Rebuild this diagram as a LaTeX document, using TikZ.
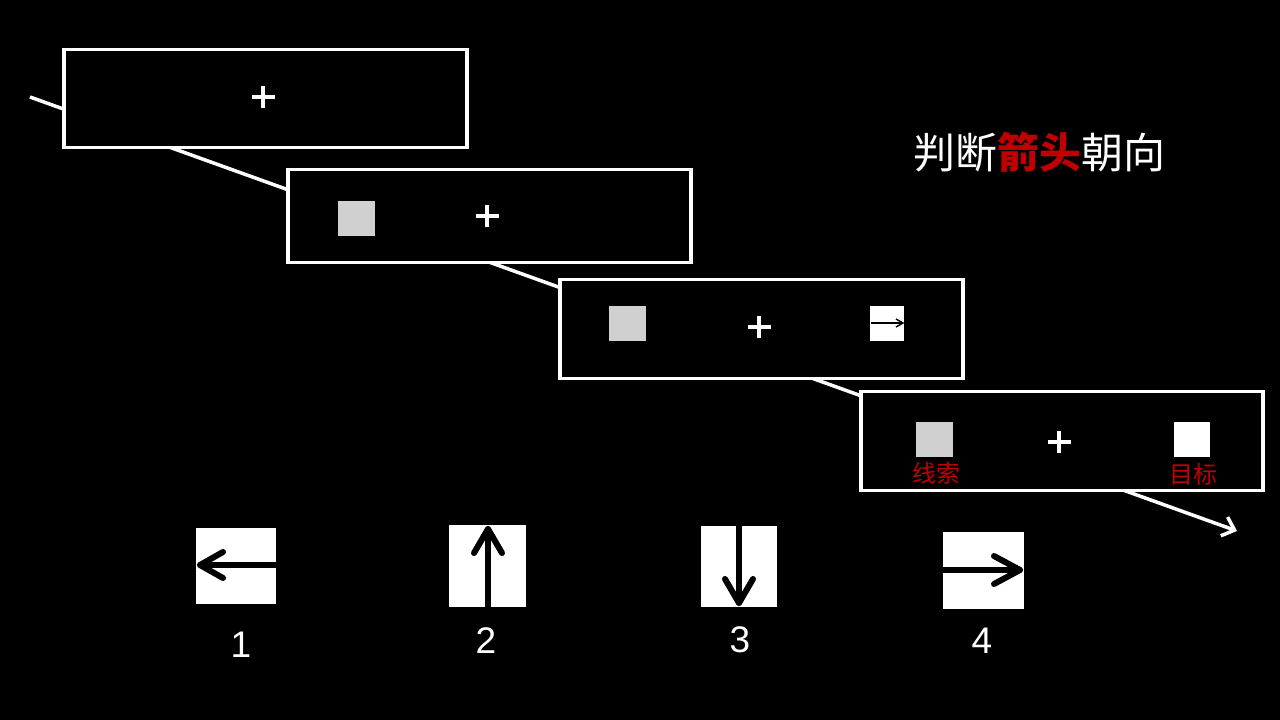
\documentclass[tikz,border=0pt]{standalone}
\usepackage{fontspec}
\setmainfont{Liberation Sans}
\newfontfamily\cjk{Noto Sans CJK SC}
\usetikzlibrary{arrows.meta}
\definecolor{cuegray}{HTML}{D0D0D0}
\definecolor{labelred}{HTML}{C00000}
\tikzset{
  frame/.style={draw=white, line width=3.5pt, fill=black, anchor=north west, inner sep=0pt},
  sq/.style={anchor=north west, inner sep=0pt, draw=none},
  card/.style={fill=white, anchor=north west, inner sep=0pt, draw=none},
  cardarrow/.style={draw=black, line width=6pt, line cap=round, line join=round},
  plussign/.style={draw=white, line width=3.5pt},
  num/.style={text=white, font=\fontsize{37}{42}\selectfont},
  tag/.style={text=labelred, font=\cjk\fontsize{24}{28}\selectfont},
  timeline/.style={draw=white, line width=3.5pt, -{Straight Barb[length=11pt,width=20pt,line width=3.5pt]}}
}
\begin{document}
\begin{tikzpicture}[x=1pt,y=-1pt]
\useasboundingbox[fill=black] (0,0) rectangle (1280,720);
% timeline
\coordinate (tstart) at (30,97);
\coordinate (tend) at (1237,531);
\draw[timeline] (tstart) -- (tend);
% frames
\node[frame, minimum width=403pt, minimum height=98pt] (b1) at (62,47.5) {};
\node[frame, minimum width=403pt, minimum height=93pt] (b2) at (286,167.5) {};
\node[frame, minimum width=403pt, minimum height=99pt] (b3) at (558,277.5) {};
\node[frame, minimum width=402pt, minimum height=99pt] (b4) at (859,389.5) {};
% fixation crosses
\foreach \px/\py in {263/97, 487/216, 759/327, 1059/442}{
  \draw[plussign] (\px-11.5,\py) -- (\px+11.5,\py);
  \draw[plussign] (\px,\py-11) -- (\px,\py+11);
}
% cue squares
\node[sq, fill=cuegray, minimum width=37pt, minimum height=35pt] (c2) at (338,201) {};
\node[sq, fill=cuegray, minimum width=37pt, minimum height=35pt] (c3) at (609,306) {};
\node[sq, fill=cuegray, minimum width=37pt, minimum height=35pt] (c4) at (916,422) {};
% target in frame 3
\node[card, minimum width=34pt, minimum height=35pt] (t3) at (870,306) {};
\draw[black, line width=1.4pt] (871,323) -- (903,323);
\draw[black, line width=1.4pt] (896,319) -- (903,323) -- (896,327);
% target in frame 4
\node[sq, fill=white, minimum width=36pt, minimum height=35pt] (t4) at (1174,422) {};
% labels
\node[tag] (l1) at (936,473) {线索};
\node[tag] (l2) at (1193,474) {目标};
% title
\node[text=white, font=\cjk\fontsize{42}{50}\selectfont] (title) at (1039,152) {判断\textcolor{labelred}{\bfseries 箭头}朝向};
% response cards
\node[card, minimum width=80pt, minimum height=76pt] (k1) at (196,528) {};
\draw[cardarrow] (276,565) -- (200,565);
\draw[cardarrow] (223,552) -- (200,565) -- (223,578);
\node[card, minimum width=77pt, minimum height=82pt] (k2) at (449,525) {};
\draw[cardarrow] (488,607) -- (488,529);
\draw[cardarrow] (474,553) -- (488,529) -- (502,553);
\node[card, minimum width=76pt, minimum height=81pt] (k3) at (701,526) {};
\draw[cardarrow] (739,526) -- (739,603);
\draw[cardarrow] (725,579) -- (739,603) -- (753,579);
\node[card, minimum width=81pt, minimum height=77pt] (k4) at (943,532) {};
\draw[cardarrow] (943,570) -- (1020,570);
\draw[cardarrow] (994,556) -- (1020,570) -- (994,584);
% numbers
\node[num] (n1) at (241,645) {1};
\node[num] (n2) at (486,641) {2};
\node[num] (n3) at (740,640) {3};
\node[num] (n4) at (982,641) {4};
\end{tikzpicture}
\end{document}
